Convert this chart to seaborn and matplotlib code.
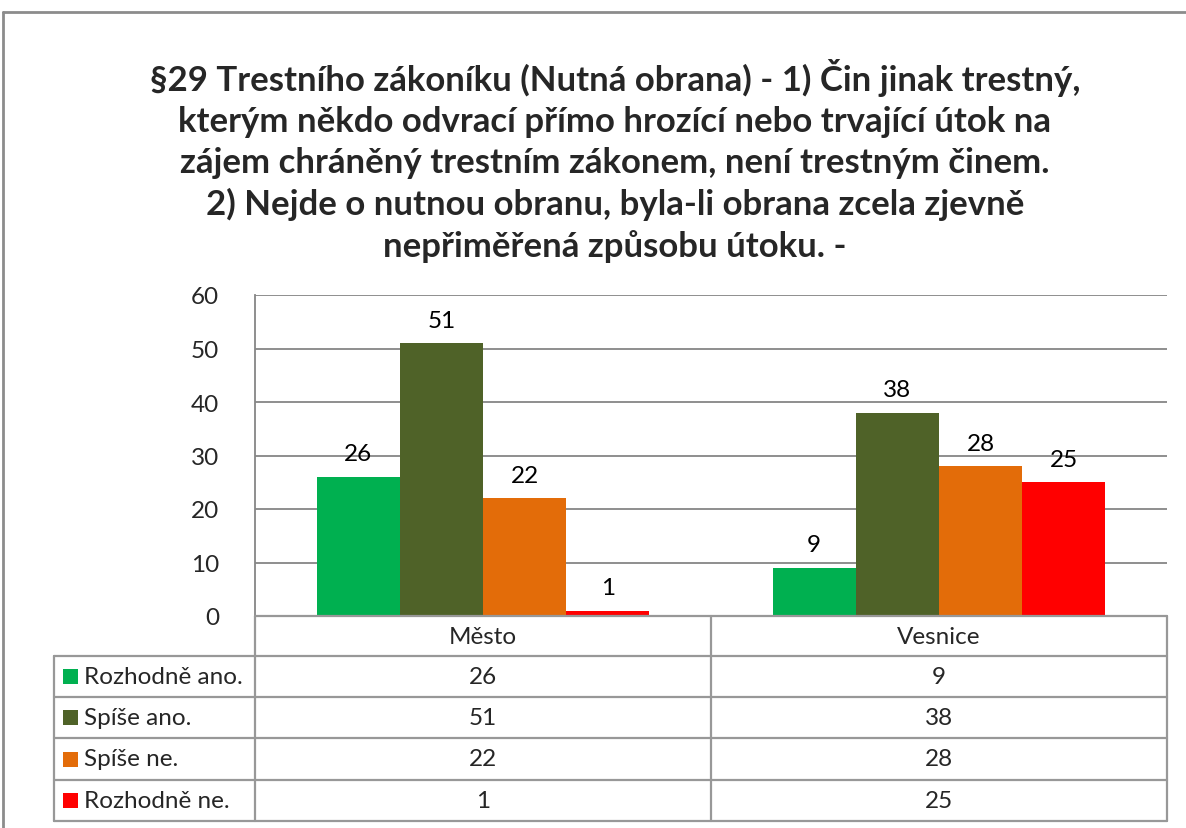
import matplotlib
matplotlib.use("Agg")
import matplotlib.pyplot as plt
import seaborn as sns
import pandas as pd
from matplotlib.lines import Line2D
from matplotlib.patches import Rectangle

# --------------------------
# Data
# --------------------------
categories = ["Město", "Vesnice"]
series = ["Rozhodně ano.", "Spíše ano.", "Spíše ne.", "Rozhodně ne."]
rozhodne_ano = [26, 9]
spise_ano = [51, 38]
spise_ne = [22, 28]
rozhodne_ne = [1, 25]
colors = ["#00B050", "#4F6228", "#E36C09", "#FF0000"]
yticks = [0, 10, 20, 30, 40, 50, 60]

title = ("§29 Trestního zákoníku (Nutná obrana) - 1) Čin jinak trestný,\n"
         "kterým někdo odvrací přímo hrozící nebo trvající útok na\n"
         "zájem chráněný trestním zákonem, není trestným činem.\n"
         "2) Nejde o nutnou obranu, byla-li obrana zcela zjevně\n"
         "nepřiměřená způsobu útoku. -")

values = [rozhodne_ano, spise_ano, spise_ne, rozhodne_ne]
rows = []
for s, vals in zip(series, values):
    for c, v in zip(categories, vals):
        rows.append({"Kategorie": c, "Odpověď": s, "Počet": v})
df = pd.DataFrame(rows)

# --------------------------
# Figure setup
# --------------------------
sns.set_style("white")
plt.rcParams["font.family"] = ["Lato", "DejaVu Sans"]

W, H = 1186, 829
fig = plt.figure(figsize=(W / 100, H / 100), dpi=100)
fs = 17.5

def fx(px):
    return px / W

def fy(py):
    return 1 - py / H

# plot area in pixels
x0, x1 = 255, 1167
ytop, ybot = 296, 617
ax = fig.add_axes([fx(x0), fy(ybot), fx(x1) - fx(x0), fy(ytop) - fy(ybot)])

sns.barplot(data=df, x="Kategorie", y="Počet", hue="Odpověď",
            hue_order=series, order=categories, palette=colors,
            width=0.73, gap=0, saturation=1, legend=False,
            linewidth=0, ax=ax)

for cont in ax.containers:
    ax.bar_label(cont, fontsize=fs, padding=9, color="#000000")

ax.set_xlim(-0.5, 1.5)
ax.set_ylim(0, 60)
ax.set_yticks(yticks)
ax.set_yticklabels([str(t) for t in yticks], fontsize=fs)
ax.set_xticks([])
ax.set_xlabel("")
ax.set_ylabel("")
ax.yaxis.grid(True, color="#868686", linewidth=1.3)
ax.set_axisbelow(True)
ax.tick_params(axis="y", length=0, pad=26)
for side in ["top", "right", "bottom"]:
    ax.spines[side].set_visible(False)
ax.spines["left"].set_color("#868686")
ax.spines["left"].set_linewidth(1.3)

# --------------------------
# Data table
# --------------------------
gc = "#989898"
lw = 1.6
row_y = [617, 657, 698, 739, 781, 822]
col_x = [54, 255, 711, 1167]

def hline(y, xa, xb):
    fig.add_artist(Line2D([fx(xa), fx(xb)], [fy(y), fy(y)], color=gc, lw=lw))

def vline(x, ya, yb):
    fig.add_artist(Line2D([fx(x), fx(x)], [fy(ya), fy(yb)], color=gc, lw=lw))

hline(row_y[0], col_x[1], col_x[3])
for y in row_y[1:]:
    hline(y, col_x[0], col_x[3])
vline(col_x[0], row_y[1], row_y[-1])
for x in col_x[1:]:
    vline(x, row_y[0], row_y[-1])

for j, c in enumerate(categories):
    cx = (col_x[j + 1] + col_x[j + 2]) / 2
    fig.text(fx(cx), fy((row_y[0] + row_y[1]) / 2), c, ha="center",
             va="center", fontsize=fs)

for i, (s, vals, col) in enumerate(zip(series, values, colors)):
    cy = (row_y[i + 1] + row_y[i + 2]) / 2
    fig.add_artist(Rectangle((fx(63), fy(cy + 7.5)), fx(15), 15 / H,
                             facecolor=col, edgecolor="none"))
    fig.text(fx(84), fy(cy), s, ha="left", va="center", fontsize=fs)
    for j, v in enumerate(vals):
        cx = (col_x[j + 1] + col_x[j + 2]) / 2
        fig.text(fx(cx), fy(cy), str(v), ha="center", va="center", fontsize=fs)

# --------------------------
# Title and frame
# --------------------------
fig.text(fx(615), fy(161), title, ha="center", va="center", fontsize=25,
         fontweight="bold", linespacing=1.33)

fig.add_artist(Line2D([fx(3), fx(W)], [fy(13), fy(13)], color="#8c8c8c", lw=2))
fig.add_artist(Line2D([fx(3), fx(3)], [fy(13), 0], color="#8c8c8c", lw=2))

plt.savefig("out.png", dpi=100)
plt.close()
